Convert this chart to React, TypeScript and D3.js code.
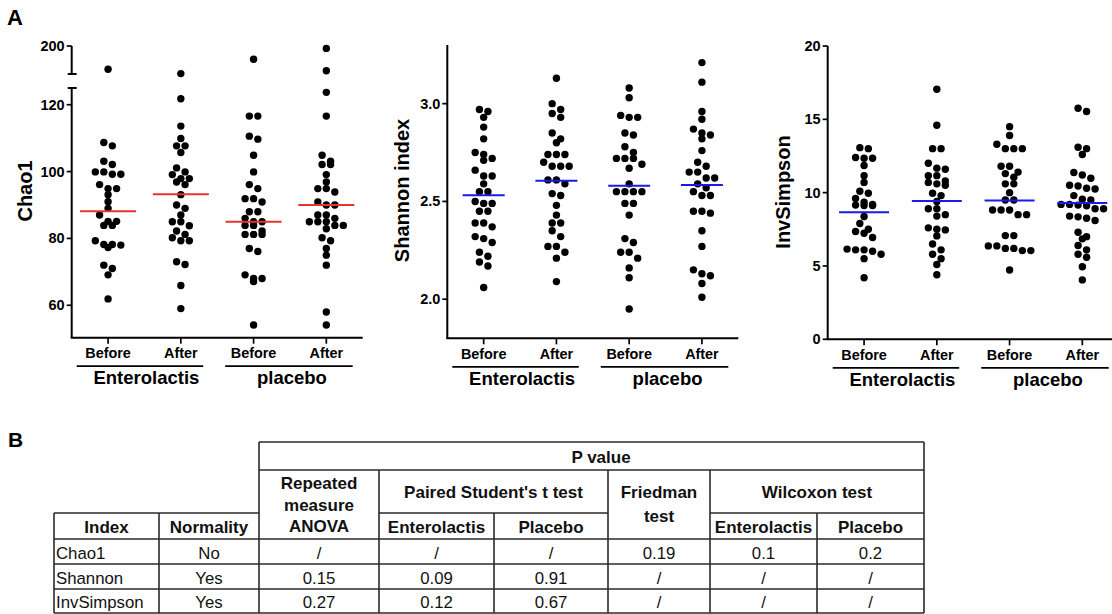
import React from 'react';
import * as d3 from 'd3';

// x categories
const timepoints = ['Before', 'After', 'Before', 'After'];
const arms = ['Enterolactis', 'placebo'];

// Chao1 (values above 130 sit on the broken upper segment)
const chaoEntBefore = [142, 108.7, 107.7, 103.1, 102.1, 99.9, 99.2, 99.2, 99.9, 96.1, 94.9, 94.9, 93.1, 91.0, 89.0, 87.0, 85.1, 85.1, 83.9, 83.9, 78.2, 79.3, 78.0, 78.2, 77.3, 72.0, 71.0, 69.1, 61.9];
const chaoEntAfter = [131, 121.8, 113.6, 109.9, 107.7, 107.7, 105.7, 101.1, 99.9, 97.9, 99.1, 97.9, 96.9, 96.1, 93.1, 90.0, 89.0, 87.0, 85.0, 85.0, 83.8, 82.2, 81.2, 80.2, 79.3, 79.3, 72.2, 73.0, 65.9, 59.0];
const chaoPlaBefore = [167, 116.6, 116.6, 110.6, 109.7, 104.9, 99.9, 96.1, 94.9, 91.9, 91.9, 90.9, 88.0, 88.0, 86.0, 85.0, 85.0, 83.9, 83.9, 82.2, 81.2, 81.2, 81.2, 77.0, 76.1, 69.1, 68.0, 67.1, 68.0, 54.1];
const chaoPlaAfter = [194, 138, 123.7, 116.6, 104.9, 103.1, 102.1, 102.1, 99.1, 96.9, 94.9, 93.9, 94.9, 90.0, 90.9, 90.0, 87.0, 87.0, 85.0, 85.0, 86.0, 85.0, 83.9, 82.9, 83.9, 80.2, 79.3, 77.0, 75.0, 72.0, 58.0, 54.1];
const chaoMedians = [88.1, 93.2, 85.0, 90.0];

// Shannon index
const shanEntBefore = [2.96, 2.97, 2.93, 2.88, 2.82, 2.75, 2.71, 2.72, 2.74, 2.66, 2.63, 2.63, 2.59, 2.55, 2.55, 2.50, 2.49, 2.49, 2.45, 2.45, 2.39, 2.39, 2.37, 2.31, 2.32, 2.29, 2.24, 2.22, 2.19, 2.17, 2.06];
const shanEntAfter = [3.13, 3.00, 2.97, 2.95, 2.93, 2.85, 2.82, 2.80, 2.74, 2.74, 2.74, 2.70, 2.68, 2.68, 2.68, 2.61, 2.61, 2.59, 2.54, 2.53, 2.48, 2.43, 2.39, 2.39, 2.35, 2.32, 2.27, 2.27, 2.24, 2.21, 2.09];
const shanPlaBefore = [3.08, 3.03, 2.93, 2.93, 2.94, 2.84, 2.85, 2.78, 2.72, 2.72, 2.72, 2.75, 2.69, 2.67, 2.59, 2.55, 2.55, 2.55, 2.55, 2.49, 2.49, 2.43, 2.29, 2.31, 2.24, 2.24, 2.21, 2.16, 2.11, 1.95];
const shanPlaAfter = [3.21, 3.11, 2.96, 2.92, 2.84, 2.87, 2.85, 2.82, 2.76, 2.68, 2.70, 2.65, 2.65, 2.62, 2.62, 2.59, 2.57, 2.55, 2.53, 2.53, 2.45, 2.44, 2.45, 2.35, 2.27, 2.13, 2.15, 2.12, 2.08, 2.01];
const shanMedians = [2.531, 2.606, 2.58, 2.584];

// InvSimpson
const invEntBefore = [13.0, 13.07, 12.4, 12.35, 12.35, 11.85, 11.15, 10.7, 9.96, 10.1, 9.6, 9.35, 9.12, 9.15, 9.12, 9.2, 8.37, 7.9, 7.5, 7.23, 7.35, 6.94, 6.1, 6.15, 6.1, 6.0, 5.8, 5.5, 4.2];
const invEntAfter = [17.05, 14.6, 13.0, 13.0, 12.0, 11.6, 11.67, 11.16, 11.16, 10.8, 10.6, 10.5, 10.7, 9.96, 9.8, 9.4, 8.9, 8.9, 8.5, 8.4, 7.5, 7.46, 7.6, 7.05, 6.5, 6.1, 5.8, 5.5, 5.1, 4.4];
const invPlaBefore = [14.5, 13.9, 13.3, 13.0, 13.0, 13.0, 11.8, 11.8, 11.4, 11.3, 11.05, 10.6, 10.6, 10.0, 9.5, 9.5, 8.82, 8.82, 8.82, 8.5, 8.5, 7.07, 7.07, 6.37, 6.37, 6.2, 6.05, 6.05, 6.2, 4.73];
const invPlaAfter = [15.76, 15.53, 13.1, 13.0, 12.6, 11.2, 10.98, 11.37, 10.5, 10.3, 10.45, 10.25, 9.8, 9.5, 9.55, 9.1, 9.2, 9.15, 9.2, 8.9, 8.9, 8.4, 8.25, 8.1, 8.35, 7.3, 7.0, 6.85, 6.4, 6.1, 5.6, 5.8, 4.95, 4.05];
const invMedians = [8.66, 9.43, 9.47, 9.29];

// table
const tableIndex = ['Chao1', 'Shannon', 'InvSimpson'];
const tableNormality = ['No', 'Yes', 'Yes'];
const pAnova = ['/', '0.15', '0.27'];
const pPairedEnt = ['/', '0.09', '0.12'];
const pPairedPla = ['/', '0.91', '0.67'];
const pFriedman = ['0.19', '/', '/'];
const pWilcoxEnt = ['0.1', '/', '/'];
const pWilcoxPla = ['0.2', '/', '/'];

const FONT = '"Liberation Sans", Arial, sans-serif';
const DOT_R = 3.7;
const STEP = 8.5;

// GraphPad-like scatter: bin points by pixel height, spread each bin symmetrically
function swarm(values: number[], y: (v: number) => number, cx: number) {
  const pts = values.map(v => ({ v, py: y(v), px: cx })).sort((a, b) => a.py - b.py);
  let i = 0;
  while (i < pts.length) {
    let j = i;
    while (j + 1 < pts.length && pts[j + 1].py - pts[i].py < 6.5) j++;
    const n = j - i + 1;
    for (let k = 0; k < n; k++) pts[i + k].px = cx + (k - (n - 1) / 2) * STEP;
    i = j + 1;
  }
  return pts;
}

type Panel = {
  axisX: number;
  yBottom: number;
  y: (v: number) => number;
  series: number[][];
  medians: number[];
  medianColor: string;
  medianHalf: number;
  label: string;
  labelX: number;
  labelY: number;
  axisSegments: [number, number][];
  caps: number[];
  ticks: { v: number; text: string }[];
};

function ScatterPanel({ p }: { p: Panel }) {
  const x = d3.scaleBand<number>().domain([0, 1, 2, 3]).range([p.axisX, p.axisX + 291]).padding(0);
  const cx = (i: number) => (x(i) as number) + x.bandwidth() / 2;
  const bw = x.bandwidth();
  const under = [
    [p.axisX + 5, p.axisX + 2 * bw - 14],
    [p.axisX + 2 * bw + 8, p.axisX + 4 * bw - 10],
  ];
  return (
    <g>
      {p.axisSegments.map(([a, b], i) => (
        <line key={'seg' + i} x1={p.axisX} x2={p.axisX} y1={a} y2={b} stroke="#000" strokeWidth={2} />
      ))}
      {p.caps.map((c, i) => (
        <line key={'cap' + i} x1={p.axisX - 4} x2={p.axisX + 5} y1={c} y2={c} stroke="#000" strokeWidth={2} />
      ))}
      {p.ticks.map(t => (
        <g key={'t' + t.v}>
          <line x1={p.axisX - 5} x2={p.axisX} y1={p.y(t.v)} y2={p.y(t.v)} stroke="#000" strokeWidth={1.7} />
          <text x={p.axisX - 7} y={p.y(t.v) + 5} textAnchor="end" fontSize={14.5} fontWeight="bold">{t.text}</text>
        </g>
      ))}
      <line x1={p.axisX - 1} x2={p.axisX + 291} y1={p.yBottom} y2={p.yBottom} stroke="#000" strokeWidth={2} />
      {timepoints.map((t, i) => (
        <g key={'x' + i}>
          <line x1={cx(i)} x2={cx(i)} y1={p.yBottom} y2={p.yBottom + 6} stroke="#000" strokeWidth={1.7} />
          <text x={cx(i)} y={p.yBottom + 20.5} textAnchor="middle" fontSize={14.4} fontWeight="bold">{t}</text>
        </g>
      ))}
      {arms.map((a, i) => (
        <g key={'arm' + i}>
          <line x1={under[i][0]} x2={under[i][1]} y1={p.yBottom + 28.5} y2={p.yBottom + 28.5} stroke="#000" strokeWidth={1.7} />
          <text x={p.axisX + (2 * i + 1) * bw + 2} y={p.yBottom + 46.5} textAnchor="middle" fontSize={18.5} fontWeight="bold">{a}</text>
        </g>
      ))}
      <text transform={`translate(${p.labelX},${p.labelY}) rotate(-90)`} textAnchor="middle" fontSize={20} fontWeight="bold">{p.label}</text>
      {p.series.map((vals, i) =>
        swarm(vals, p.y, cx(i)).map((d, k) => <circle key={`d${i}-${k}`} cx={d.px} cy={d.py} r={DOT_R} fill="#000" />)
      )}
      {p.medians.map((m, i) => (
        <line key={'m' + i} x1={cx(i) - p.medianHalf} x2={cx(i) + p.medianHalf} y1={p.y(m)} y2={p.y(m)} stroke={p.medianColor} strokeWidth={2} />
      ))}
    </g>
  );
}

function StatsTable() {
  const cols = [54, 159, 259, 379, 494, 608, 710, 817, 924];
  const pTop = 442, pBot = 470, sub = 513, head = 539;
  const rows = [564, 589, 613];
  const mid = (a: number, b: number) => (cols[a] + cols[b]) / 2;
  const stroke = '#2a2a2a';
  const sw = 1.6;
  const hl = (y: number, a: number, b: number, k: string) => (
    <line key={k} x1={a} x2={b} y1={y} y2={y} stroke={stroke} strokeWidth={sw} />
  );
  const vl = (x: number, a: number, b: number, k: string) => (
    <line key={k} x1={x} x2={x} y1={a} y2={b} stroke={stroke} strokeWidth={sw} />
  );
  const last = rows[rows.length - 1];
  const cellCols = [tableNormality, pAnova, pPairedEnt, pPairedPla, pFriedman, pWilcoxEnt, pWilcoxPla];
  return (
    <g fontFamily={FONT} fill="#111">
      {hl(pTop, cols[2], cols[8], 'h0')}
      {hl(pBot, cols[2], cols[8], 'h1')}
      {hl(sub, cols[0], cols[2], 'h2')}
      {hl(sub, cols[3], cols[5], 'h3')}
      {hl(sub, cols[6], cols[8], 'h4')}
      {hl(head, cols[0], cols[8], 'h5')}
      {rows.map((r, i) => hl(r, cols[0], cols[8], 'r' + i))}
      {vl(cols[0], sub, last, 'v0')}
      {vl(cols[1], sub, last, 'v1')}
      {vl(cols[2], pTop, last, 'v2')}
      {vl(cols[3], pBot, last, 'v3')}
      {vl(cols[4], sub, last, 'v4')}
      {vl(cols[5], pBot, last, 'v5')}
      {vl(cols[6], pBot, last, 'v6')}
      {vl(cols[7], sub, last, 'v7')}
      {vl(cols[8], pTop, last, 'v8')}
      <g fontWeight="bold" fontSize={17} textAnchor="middle">
        <text x={601} y={463}>P value</text>
        <text x={mid(2, 3)} y={489}>Repeated</text>
        <text x={mid(2, 3)} y={510.5}>measure</text>
        <text x={mid(2, 3)} y={532}>ANOVA</text>
        <text x={mid(3, 5)} y={498}>Paired Student's t test</text>
        <text x={mid(5, 6)} y={498}>Friedman</text>
        <text x={mid(5, 6)} y={521.5}>test</text>
        <text x={mid(6, 8)} y={498}>Wilcoxon test</text>
        <text x={mid(0, 1)} y={533}>Index</text>
        <text x={mid(1, 2)} y={533}>Normality</text>
        <text x={mid(3, 4)} y={533}>Enterolactis</text>
        <text x={mid(4, 5)} y={533}>Placebo</text>
        <text x={mid(6, 7)} y={533}>Enterolactis</text>
        <text x={mid(7, 8)} y={533}>Placebo</text>
      </g>
      <g fontSize={16.8}>
        {tableIndex.map((t, i) => (
          <text key={'ix' + i} x={cols[0] + 2} y={rows[i] - 5.5}>{t}</text>
        ))}
        {cellCols.map((col, c) =>
          col.map((t, i) => (
            <text key={`c${c}-${i}`} x={mid(c + 1, c + 2)} y={rows[i] - 5.5} textAnchor="middle">{t}</text>
          ))
        )}
      </g>
    </g>
  );
}

export default function App() {
  // Chao1 has a broken axis: lower part 50-125, upper part 130-200
  const chaoLow = d3.scaleLinear().domain([50.3, 125]).range([337.7, 88]);
  const chaoHigh = d3.scaleLinear().domain([130, 200]).range([74, 46]);
  const chaoY = (v: number) => (v > 127 ? chaoHigh(v) : chaoLow(v));
  const shanY = d3.scaleLinear().domain([1.8, 3.3]).range([338.3, 45]);
  const invY = d3.scaleLinear().domain([0, 20]).range([339.3, 46]);

  const panels: Panel[] = [
    {
      axisX: 71.7, yBottom: 337.7, y: chaoY,
      series: [chaoEntBefore, chaoEntAfter, chaoPlaBefore, chaoPlaAfter],
      medians: chaoMedians, medianColor: '#e3342f', medianHalf: 28,
      label: 'Chao1', labelX: 31.5, labelY: 191,
      axisSegments: [[46, 74], [88, 337.7]], caps: [74, 88],
      ticks: [...[60, 80, 100, 120].map(v => ({ v, text: String(v) })), { v: 200, text: '200' }],
    },
    {
      axisX: 447.3, yBottom: 338.3, y: shanY,
      series: [shanEntBefore, shanEntAfter, shanPlaBefore, shanPlaAfter],
      medians: shanMedians, medianColor: '#1a1ae6', medianHalf: 21,
      label: 'Shannon index', labelX: 409, labelY: 190.5,
      axisSegments: [[45, 338.3]], caps: [],
      ticks: [2.0, 2.5, 3.0].map(v => ({ v, text: d3.format('.1f')(v) })),
    },
    {
      axisX: 827.7, yBottom: 339.3, y: invY,
      series: [invEntBefore, invEntAfter, invPlaBefore, invPlaAfter],
      medians: invMedians, medianColor: '#1a1ae6', medianHalf: 25,
      label: 'InvSimpson', labelX: 789.5, labelY: 192,
      axisSegments: [[46, 339.3]], caps: [],
      ticks: invY.ticks(4).map(v => ({ v, text: String(v) })),
    },
  ];

  return (
    <svg
      width={1112}
      height={614}
      viewBox="0 0 1112 614"
      style={{ position: 'absolute', left: 0, top: 0, background: '#fff' }}
      fontFamily={FONT}
    >
      <text x={7} y={25} fontSize={22} fontWeight="bold">A</text>
      <text x={8} y={446.7} fontSize={21} fontWeight="bold">B</text>
      {panels.map((p, i) => <ScatterPanel key={i} p={p} />)}
      <StatsTable />
    </svg>
  );
}
